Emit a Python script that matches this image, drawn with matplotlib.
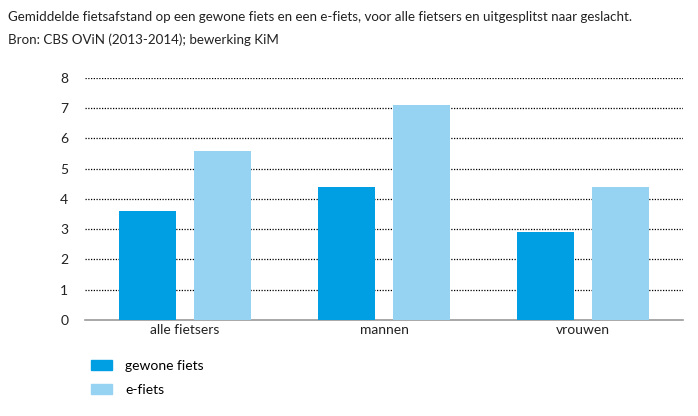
import numpy as np
import matplotlib.pyplot as plt
from matplotlib.patches import Patch

categories = ["alle fietsers", "mannen", "vrouwen"]
gewone_fiets = [3.6, 4.4, 2.9]
e_fiets = [5.6, 7.1, 4.4]
series_labels = ["gewone fiets", "e-fiets"]

dark_blue = "#009fe3"
light_blue = "#96d2f2"

plt.rcParams['font.family'] = ['Lato', 'DejaVu Sans']

fig = plt.figure(figsize=(6.98, 4.16), dpi=100)
ax = fig.add_axes([0.1218, 0.2308, 0.8567, 0.5817])

x = np.arange(len(categories))
w = 0.286
off = 0.188
ax.bar(x - off, gewone_fiets, w, color=dark_blue, zorder=3)
ax.bar(x + off, e_fiets, w, color=light_blue, zorder=3)

ax.set_xlim(-0.5, 2.5)
ax.set_ylim(0, 8)
ax.set_yticks(range(0, 9))
ax.set_xticks(x)
ax.set_xticklabels(categories)
ax.tick_params(length=0, labelsize=10, colors="#222222")
ax.tick_params(axis='y', pad=12)
ax.tick_params(axis='x', pad=3)

# dotted gridlines
for v in range(1, 9):
    ax.axhline(v, color="black", linestyle=(0, (1, 1.2)), linewidth=0.9, zorder=1)

for s in ["top", "right", "left"]:
    ax.spines[s].set_visible(False)
ax.spines["bottom"].set_color("#999999")
ax.spines["bottom"].set_linewidth(1.2)

fig.text(0.011, 0.96, "Gemiddelde fietsafstand op een gewone fiets en een e-fiets, voor alle fietsers en uitgesplitst naar geslacht.",
         fontsize=9.6, va="center", ha="left", color="#222222")
fig.text(0.011, 0.905, "Bron: CBS OViN (2013-2014); bewerking KiM",
         fontsize=9.6, va="center", ha="left", color="#222222")

handles = [Patch(color=dark_blue), Patch(color=light_blue)]
fig.legend(handles, series_labels, loc="upper left", bbox_to_anchor=(0.123, 0.148),
           frameon=False, fontsize=10, handlelength=1.45, handleheight=0.7,
           handletextpad=1.0, labelspacing=0.85, borderaxespad=0)

fig.savefig("out.png", dpi=100)
